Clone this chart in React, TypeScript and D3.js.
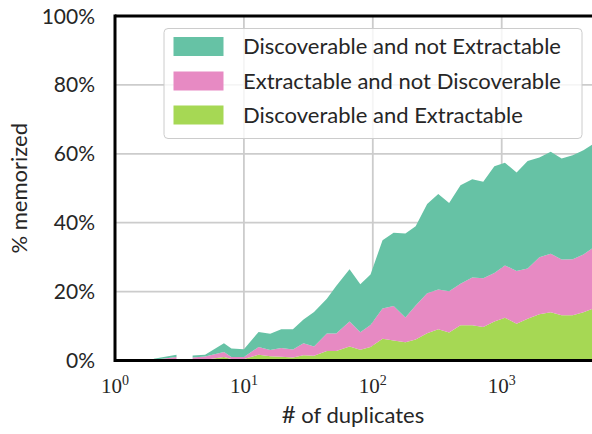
import React from 'react';
import * as d3 from 'd3';

// x positions (# of duplicates); null values mark the empty bin (gap)
const duplicates = [2, 3, 3.5, 4, 5, 7, 8, 10, 13, 16, 19.5, 24, 29, 35, 44, 52, 66, 80, 96, 119, 145, 179, 215, 264, 322, 391, 479, 591, 719, 877, 1059, 1305, 1589, 1960, 2400, 2917, 3556, 4305, 5200];

// % memorized per layer (thickness of each band)
const discoverableAndExtractable = [0, 0, null, 0, 0.2, 1.0, 0.45, 0.45, 1.65, 1.25, 1.1, 0.9, 1.55, 1.35, 2.75, 2.75, 4.1, 3.1, 3.9, 6.3, 5.8, 5.3, 6.1, 7.9, 9.1, 8.1, 10.2, 10.2, 9.7, 11.3, 12.4, 10.7, 12.1, 13.4, 14.0, 13.1, 13.1, 14.0, 15.2];
const extractableNotDiscoverable = [0.2, 1.0, null, 0.9, 0.95, 1.5, 0.55, 0.55, 2.25, 1.8, 2.5, 2.3, 3.45, 2.75, 5.1, 5.1, 7.2, 5.1, 6.4, 8.8, 10.0, 7.2, 9.9, 11.6, 11.5, 12.0, 12.1, 13.9, 14.2, 14.1, 15.2, 15.3, 14.6, 16.6, 17.0, 16.2, 16.3, 16.8, 17.7];
const discoverableNotExtractable = [0.3, 0.7, null, 0.55, 0.5, 2.5, 2.5, 2.3, 4.4, 4.75, 5.5, 5.9, 6.9, 10.0, 10.05, 13.75, 15.2, 13.9, 14.7, 19.8, 21.3, 24.4, 23.0, 25.9, 27.7, 25.6, 28.6, 28.5, 28.0, 31.0, 29.8, 28.6, 31.2, 28.9, 29.6, 29.3, 30.2, 30.2, 30.1];

const yTicks = [0, 20, 40, 60, 80, 100];
const xTickExponents = [0, 1, 2, 3];
const gridX = [10, 100, 1000];
const gridY = [20, 40, 60, 80];

const legendLabels = [
  'Discoverable and not Extractable',
  'Extractable and not Discoverable',
  'Discoverable and Extractable',
];
const colors = ['#66c2a5', '#e78ac3', '#a6d854'];

export default function App() {
  const W = 592;
  const H = 434;
  const left = 115;
  const right = 594;
  const top = 16;
  const bottom = 360.5;

  const x = d3.scaleLog().domain([1, 5200]).range([left, right]);
  const y = d3.scaleLinear().domain([0, 100]).range([bottom, top]);

  const layers = [discoverableAndExtractable, extractableNotDiscoverable, discoverableNotExtractable];
  const layerColors = [colors[2], colors[1], colors[0]];

  type Pt = { x: number; y0: number; y1: number; ok: boolean };
  const stacked: Pt[][] = [];
  const base = duplicates.map(() => 0);
  layers.forEach((vals) => {
    const pts: Pt[] = duplicates.map((d, i) => {
      const v = vals[i];
      const ok = v !== null && v !== undefined;
      const y0 = base[i];
      const y1 = y0 + (ok ? (v as number) : 0);
      base[i] = y1;
      return { x: d, y0, y1, ok };
    });
    stacked.push(pts);
  });

  const area = d3
    .area<Pt>()
    .defined((d) => d.ok)
    .x((d) => x(d.x))
    .y0((d) => y(d.y0))
    .y1((d) => y(d.y1));

  const sans = 'Lato, "Open Sans", sans-serif';
  const serif = '"Liberation Serif", "DejaVu Serif", serif';
  const textColor = '#262626';

  const legX = 164;
  const legY = 28.5;
  const legW = 418;
  const legH = 110;
  const rowY = [46.5, 81, 115];

  return (
    <svg
      width={W}
      height={H}
      style={{ position: 'absolute', left: 0, top: 0, background: '#fff' }}
    >
      <rect x={0} y={0} width={W} height={H} fill="#fff" />
      {/* grid */}
      {gridX.map((g) => (
        <line key={'gx' + g} x1={x(g)} x2={x(g)} y1={top} y2={bottom} stroke="#cccccc" strokeWidth={1.8} />
      ))}
      {gridY.map((g) => (
        <line key={'gy' + g} x1={left} x2={W} y1={y(g)} y2={y(g)} stroke="#cccccc" strokeWidth={1.8} />
      ))}
      {/* areas */}
      {stacked.map((pts, i) => (
        <path key={'a' + i} d={area(pts) || ''} fill={layerColors[i]} stroke="none" />
      ))}
      {/* spines */}
      <line x1={left} x2={W + 5} y1={top} y2={top} stroke="#000" strokeWidth={3} />
      <line x1={left} x2={W + 5} y1={bottom} y2={bottom} stroke="#000" strokeWidth={3} />
      <line x1={left} x2={left} y1={top - 1.5} y2={bottom + 1.5} stroke="#000" strokeWidth={3} />
      {/* y tick labels */}
      {yTicks.map((t) => (
        <text
          key={'yt' + t}
          x={95}
          y={y(t)}
          dy="0.36em"
          textAnchor="end"
          fontFamily={sans}
          fontSize={21}
          fill={textColor}
        >
          {t + '%'}
        </text>
      ))}
      {/* x tick labels */}
      {xTickExponents.map((e) => (
        <text
          key={'xt' + e}
          x={x(Math.pow(10, e))}
          y={393}
          textAnchor="middle"
          fontFamily={serif}
          fontSize={21}
          fill={textColor}
        >
          <tspan>10</tspan>
          <tspan dy={-8} fontSize={14}>{String(e)}</tspan>
        </text>
      ))}
      {/* axis labels */}
      <text
        x={353}
        y={423}
        textAnchor="middle"
        fontFamily={sans}
        fontSize={22}
        fill={textColor}
      >
        <tspan fontSize={24}>#</tspan> of duplicates
      </text>
      <text
        transform={`translate(27, ${(top + bottom) / 2}) rotate(-90)`}
        textAnchor="middle"
        fontFamily={sans}
        fontSize={22}
        fill={textColor}
      >
        % memorized
      </text>
      {/* legend */}
      <rect
        x={legX}
        y={legY}
        width={legW}
        height={legH}
        rx={4}
        ry={4}
        fill="#fff"
        fillOpacity={0.8}
        stroke="#cccccc"
        strokeWidth={1}
      />
      {legendLabels.map((lab, i) => (
        <g key={'lg' + i}>
          <rect x={173.5} y={rowY[i] - 9.5} width={50} height={19} fill={colors[i]} />
          <text
            x={243}
            y={rowY[i]}
            dy="0.36em"
            fontFamily={sans}
            fontSize={22}
            fill={textColor}
          >
            {lab}
          </text>
        </g>
      ))}
    </svg>
  );
}
